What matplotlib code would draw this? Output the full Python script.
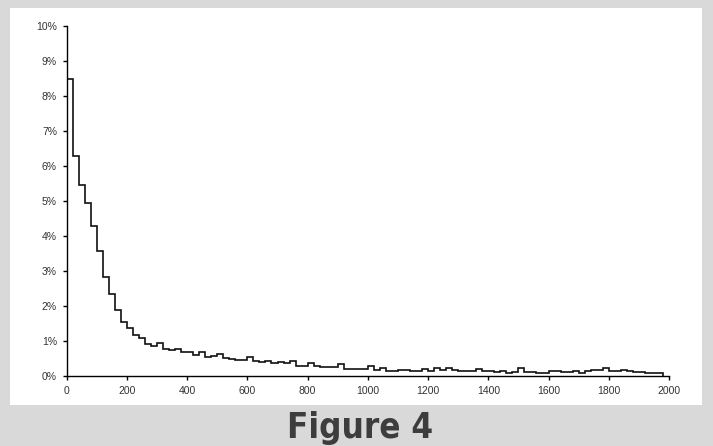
import matplotlib.pyplot as plt
import numpy as np
from matplotlib.patches import Rectangle
from matplotlib.ticker import PercentFormatter

# bin edges (width 20) and share of values in each bin, in percent
bin_edges = np.arange(0, 2000, 20)
shares = [8.5, 6.3, 5.45, 4.95, 4.3, 3.57, 2.82, 2.33, 1.9, 1.55,
          1.37, 1.18, 1.08, 0.91, 0.87, 0.93, 0.78, 0.75, 0.76, 0.69,
          0.68, 0.61, 0.69, 0.54, 0.57, 0.63, 0.52, 0.48, 0.45, 0.45,
          0.55, 0.42, 0.39, 0.42, 0.36, 0.39, 0.36, 0.44, 0.30, 0.30,
          0.36, 0.29, 0.25, 0.27, 0.27, 0.35, 0.20, 0.20, 0.20, 0.20,
          0.30, 0.16, 0.23, 0.15, 0.15, 0.18, 0.17, 0.13, 0.13, 0.21,
          0.15, 0.22, 0.16, 0.22, 0.17, 0.13, 0.13, 0.14, 0.20, 0.13,
          0.15, 0.12, 0.15, 0.10, 0.12, 0.22, 0.11, 0.12, 0.10, 0.10,
          0.14, 0.14, 0.11, 0.11, 0.14, 0.10, 0.14, 0.17, 0.17, 0.24,
          0.13, 0.13, 0.17, 0.13, 0.11, 0.11, 0.10, 0.10, 0.10]
x_ticks = list(range(0, 2001, 200))
y_ticks = list(range(0, 11))
caption = "Figure 4"

W, H = 713, 446
fig = plt.figure(figsize=(W / 100, H / 100), dpi=100)
fig.patch.set_facecolor("#d9d9d9")

# white panel behind the chart
fig.patches.append(Rectangle((10 / W, (H - 405) / H), 692 / W, 397 / H,
                             transform=fig.transFigure, facecolor="white",
                             edgecolor="none", zorder=-5))

ax = fig.add_axes([66.7 / W, (H - 376) / H, (669 - 66.7) / W, 350 / H])
ax.set_zorder(2)
ax.patch.set_alpha(0)
ax.stairs(shares, bin_edges, baseline=0, color="#111111", lw=1.2)

ax.set_xlim(0, 2000)
ax.set_ylim(0, 10)
ax.set_xticks(x_ticks)
ax.set_yticks(y_ticks)
ax.yaxis.set_major_formatter(PercentFormatter(decimals=0))
for s in ["top", "right"]:
    ax.spines[s].set_visible(False)
for s in ["left", "bottom"]:
    ax.spines[s].set_color("black")
    ax.spines[s].set_linewidth(1.0)
ax.tick_params(direction="out", length=3, width=1, color="black",
               labelsize=7.5, labelcolor="#333333", pad=4)
for lab in ax.get_xticklabels() + ax.get_yticklabels():
    lab.set_family(["Liberation Sans", "DejaVu Sans"])

fig.text(360 / W, (H - 428) / H, caption, ha="center", va="center",
         fontsize=25, fontweight="bold", fontstretch="condensed",
         color="#3d3d3d", family=["DejaVu Sans"])

fig.savefig("out.png", dpi=100, facecolor=fig.get_facecolor())
